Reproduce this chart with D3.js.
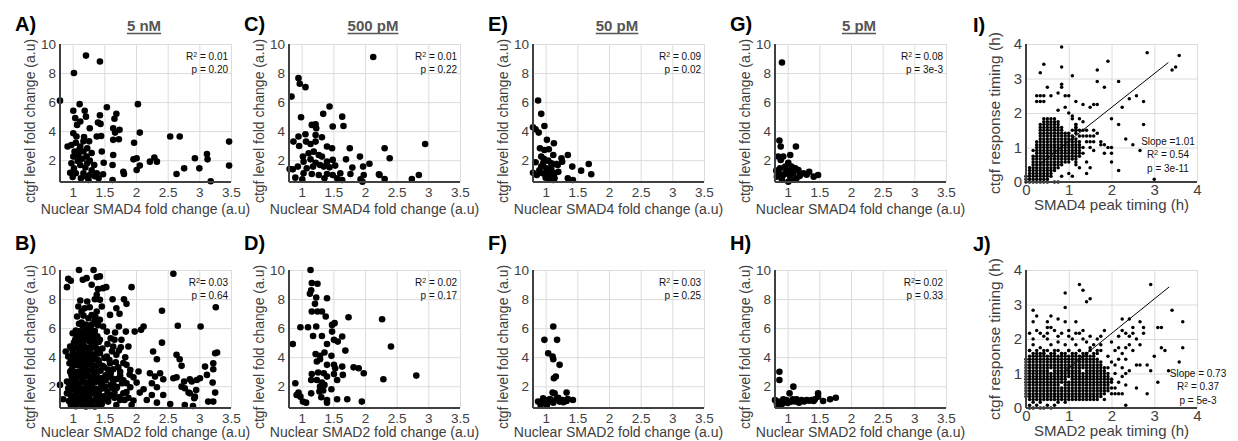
<!DOCTYPE html>
<html>
<head>
<meta charset="utf-8">
<script src="https://cdn.jsdelivr.net/npm/d3@7"></script>
<style>
  body { margin: 0; background: #fff; }
</style>
</head>
<body>
<svg id="fig" width="1238" height="441"></svg>
<script>
// ---- tick values / labels ----
const xTicksFold = [1, 1.5, 2, 2.5, 3, 3.5];
const yTicksFold = [2, 4, 6, 8, 10];
const timeTicks = [0, 1, 2, 3, 4];
const doses = ["5 nM", "500 pM", "50 pM", "5 pM"];
const lettersTop = ["A)", "C)", "E)", "G)"];
const lettersBottom = ["B)", "D)", "F)", "H)"];
const r2Smad4 = ["0.01", "0.01", "0.09", "0.08"];
const pSmad4 = ["0.20", "0.22", "0.02", "3e-3"];
const r2Smad2 = ["0.03", "0.02", "0.03", "0.02"];
const pSmad2 = ["0.64", "0.17", "0.25", "0.33"];

// ---- fold change scatter data [nuclear SMAD fold change, ctgf fold change] ----
const smad4_5nM = [[0.8,6.1],[1.21,9.2],[1.43,8.8],[1.02,8.0],[1.11,5.86],[1.54,5.65],[2.03,5.86],[1.69,5.19],[1.01,5.4],[1.19,5.4],[1.43,5.1],[1.66,4.85],[1.04,4.9],[1.12,4.66],[1.21,5.0],[1.07,4.43],[1.27,4.2],[1.4,4.6],[1.44,4.5],[1.64,4.2],[1.74,4.09],[1.67,3.9],[2.06,3.9],[1.97,3.2],[1.38,3.63],[1.45,3.67],[1.64,3.4],[1.73,3.44],[2.54,3.63],[2.69,3.63],[1.01,3.86],[1.06,3.63],[1.17,3.3],[1.26,3.3],[0.92,2.94],[0.98,3.05],[1.12,2.94],[1.23,2.82],[1.03,2.6],[1.17,2.6],[1.46,2.6],[1.64,2.36],[1.01,2.25],[1.09,2.36],[1.22,2.25],[1.27,1.97],[0.98,1.79],[1.12,1.67],[1.23,1.79],[1.34,1.67],[1.49,1.83],[1.63,1.67],[1.96,2.06],[2.01,2.13],[2.06,1.63],[2.01,1.33],[2.22,1.9],[2.29,2.18],[2.33,1.9],[0.96,1.14],[1.05,1.1],[1.17,1.1],[1.27,0.98],[1.38,1.1],[1.48,1.03],[1.13,0.75],[1.25,0.64],[1.41,0.75],[1.63,0.64],[1.8,1.21],[1.81,1.05],[2.64,1.05],[2.76,1.44],[2.93,2.13],[3.0,1.44],[3.12,2.43],[3.13,2.06],[3.18,0.55],[3.47,3.28],[3.47,1.63],[1.05,3.2],[1.1,2.7],[1.15,2.1],[1.2,1.5],[1.08,1.95],[1.3,1.3],[1.35,0.9],[1.02,1.45],[1.18,3.6],[1.3,2.5],[1.0,0.85],[1.2,0.9]];

const smad4_500pM = [[2.13,9.1],[0.95,7.65],[0.97,7.26],[1.06,7.03],[0.84,6.38],[0.99,4.96],[1.44,5.7],[1.34,5.19],[1.64,5.0],[1.66,4.36],[1.49,4.32],[1.16,4.43],[1.22,4.48],[1.23,4.2],[0.95,3.63],[1.06,3.79],[1.22,3.74],[1.32,3.58],[0.87,3.28],[1.07,3.28],[1.14,3.12],[1.22,3.28],[0.96,2.98],[1.19,2.59],[1.4,2.94],[1.48,2.82],[1.76,2.82],[1.11,2.48],[1.27,2.36],[1.02,2.25],[1.32,2.25],[1.03,1.9],[1.14,2.06],[1.22,1.83],[1.29,1.67],[1.4,1.9],[1.49,2.02],[1.7,2.06],[1.92,2.25],[2.07,1.76],[0.94,1.56],[1.08,1.44],[1.18,1.56],[1.35,1.56],[1.44,1.51],[1.53,1.63],[1.8,1.49],[1.97,1.56],[0.81,1.4],[0.86,1.37],[1.03,1.1],[1.16,1.05],[1.27,0.98],[1.4,1.05],[1.49,0.98],[1.61,1.1],[1.77,1.05],[1.98,0.98],[2.22,1.03],[0.9,0.8],[1.01,0.68],[1.36,0.75],[1.56,0.75],[1.64,0.64],[1.93,0.68],[1.96,0.52],[2.31,2.82],[2.39,2.13],[2.23,0.98],[2.31,0.71],[2.74,0.71],[2.85,0.98],[2.95,3.12]];

const smad4_50pM = [[0.88,6.11],[0.93,5.19],[0.8,4.27],[0.84,4.13],[0.89,3.9],[0.98,4.36],[1.02,3.4],[1.13,3.17],[0.91,2.82],[0.98,2.7],[1.05,2.75],[0.93,2.25],[1.12,2.36],[0.84,1.86],[0.96,1.79],[1.04,1.97],[1.17,1.74],[0.93,1.56],[1.01,1.44],[1.09,1.56],[0.8,1.14],[0.86,0.98],[0.95,1.1],[1.04,0.91],[1.12,1.05],[1.06,0.68],[1.14,0.75],[1.25,2.13],[1.26,1.9],[1.35,2.36],[1.19,1.67],[1.09,1.79],[1.42,1.56],[1.68,1.74],[1.56,1.28],[1.72,1.03],[1.01,1.1],[1.09,1.33],[1.14,1.1],[1.12,0.64],[1.35,0.75],[1.43,0.64],[0.9,1.3],[1.0,0.8],[1.2,1.2],[0.97,2.1]];

const smad4_5pM = [[0.91,8.73],[0.87,3.35],[1.13,2.94],[1.04,2.36],[0.89,2.94],[0.85,2.25],[0.89,2.02],[0.93,2.25],[1.01,1.83],[0.82,1.28],[0.88,1.44],[0.96,1.56],[1.06,1.56],[1.12,1.44],[1.17,1.33],[1.01,1.21],[1.09,1.1],[1.25,1.1],[1.34,1.21],[1.41,0.87],[1.48,0.98],[0.83,0.87],[0.91,0.68],[1.01,0.52],[1.14,0.75],[1.19,0.91],[0.93,0.98],[1.04,0.87],[0.98,1.3],[1.1,1.25],[0.86,1.1],[1.2,1.05],[1.3,1.0],[0.95,1.05],[1.07,0.65]];

const smad2_5nM = [[1.1,10.0],[1.33,10.0],[0.93,9.4],[0.97,9.26],[1.16,9.33],[1.22,9.44],[1.38,9.51],[1.43,9.56],[1.3,8.98],[0.91,8.82],[1.4,8.68],[1.48,8.75],[1.53,8.82],[1.93,8.82],[2.59,9.74],[1.38,8.29],[1.43,7.95],[1.63,7.99],[1.81,7.99],[1.12,7.9],[1.23,7.83],[1.35,7.99],[1.85,7.67],[2.41,7.19],[1.09,7.49],[1.19,7.37],[1.27,7.44],[1.46,7.49],[1.69,7.37],[1.14,7.14],[1.38,7.14],[1.59,6.91],[1.74,6.98],[1.07,6.8],[1.25,6.68],[1.14,6.39],[1.35,6.52],[1.43,6.57],[1.17,6.11],[1.3,6.22],[1.48,6.11],[1.73,6.11],[2.12,6.11],[2.08,5.88],[2.66,6.16],[1.0,5.65],[1.09,5.53],[1.27,5.65],[1.54,5.76],[1.67,5.7],[1.84,5.76],[1.98,5.76],[1.04,5.19],[1.22,5.3],[1.43,5.19],[1.77,5.19],[2.41,5.0],[0.96,4.73],[1.14,4.73],[1.33,4.73],[1.64,4.73],[1.76,4.68],[1.88,4.73],[0.89,4.39],[1.19,4.27],[1.43,4.27],[1.69,4.16],[2.27,4.39],[2.64,4.16],[0.93,4.04],[1.09,3.93],[1.27,3.99],[1.54,4.04],[1.83,3.99],[2.69,3.86],[2.33,3.86],[0.95,3.58],[1.12,3.47],[1.25,3.63],[1.41,3.53],[1.59,3.58],[1.85,3.47],[0.98,3.12],[1.17,3.24],[1.38,3.01],[1.64,3.17],[1.91,3.12],[2.04,3.01],[2.22,2.89],[2.38,2.89],[0.98,2.78],[1.19,2.66],[1.33,2.78],[1.54,2.66],[1.75,2.71],[1.96,2.61],[2.3,2.66],[2.43,2.48],[2.59,2.55],[2.64,2.61],[2.85,2.48],[2.96,2.43],[0.91,2.32],[1.06,2.2],[1.25,2.25],[1.43,2.32],[1.64,2.2],[1.85,2.2],[2.01,2.25],[2.25,2.2],[2.76,2.32],[0.8,2.09],[0.93,1.86],[1.12,1.86],[1.3,1.97],[1.48,1.86],[1.69,1.86],[1.91,1.93],[2.12,1.79],[2.33,1.93],[2.72,1.97],[0.91,1.51],[1.06,1.4],[1.22,1.47],[1.41,1.51],[1.62,1.4],[1.8,1.51],[2.06,1.56],[2.25,1.4],[2.43,1.4],[2.83,1.56],[2.93,1.28],[0.85,1.1],[1.04,1.05],[1.19,0.94],[1.38,1.05],[1.56,0.94],[1.75,1.05],[1.96,1.01],[2.17,1.05],[2.54,0.78],[2.77,0.71],[1.06,0.71],[1.27,0.64],[1.46,0.78],[1.69,0.71],[1.93,0.71],[2.33,0.87],[3.26,7.44],[3.02,6.11],[3.28,4.32],[3.25,4.27],[3.09,3.35],[3.22,3.58],[3.22,3.17],[3.12,2.78],[3.21,2.25],[3.01,2.55],[2.88,2.32],[2.72,3.4],[2.77,1.86],[2.85,1.51],[2.95,1.74],[2.92,1.17],[2.9,0.64],[3.14,0.94],[3.22,0.94],[3.25,1.56],[1.02,1.2],[1.08,1.6],[1.14,1.2],[1.2,1.7],[1.26,1.3],[1.32,1.7],[1.38,1.3],[1.04,2.4],[1.1,2.8],[1.16,2.4],[1.22,2.9],[1.28,2.4],[1.34,3.0],[1.4,2.5],[1.05,3.5],[1.11,4.0],[1.17,3.6],[1.23,4.1],[1.29,3.6],[1.35,4.1],[1.41,3.7],[1.06,4.6],[1.12,5.1],[1.18,4.7],[1.24,5.2],[1.3,4.8],[1.36,5.3],[1.2,5.8],[1.28,6.0],[1.15,6.2],[1.09,0.9],[1.17,0.7],[1.23,0.8],[1.31,0.9],[1.35,0.6],[1.48,1.3],[1.55,1.6],[1.62,1.9],[1.52,2.4],[1.6,2.9],[1.7,2.5],[1.5,3.3],[1.58,3.8],[1.72,3.3],[1.78,2.2],[1.66,1.2],[1.85,1.6],[1.47,4.6],[1.6,5.3],[1.0,2.0],[1.25,2.0],[1.3,5.6],[1.13,5.6],[1.45,2.1],[0.97,3.9],[1.0,4.3],[1.42,4.5],[1.19,3.1],[1.33,3.4],[1.08,3.0]];
// densest part of the 5 nM SMAD2 cloud
const smad2_5nM_core = [[0.97,0.72],[1.05,0.62],[1.14,0.78],[1.21,0.6],[1.3,0.74],[1.4,0.66],[0.94,0.98],[1.01,1.02],[1.12,1.06],[1.22,1.12],[1.29,1.0],[1.36,1.08],[1.44,1.0],[0.97,1.38],[1.05,1.45],[1.13,1.36],[1.18,1.48],[1.27,1.42],[1.34,1.5],[1.42,1.38],[0.99,1.78],[1.06,1.86],[1.16,1.8],[1.21,1.9],[1.28,1.76],[1.36,1.84],[1.44,1.8],[0.95,2.16],[1.02,2.28],[1.11,2.18],[1.19,2.26],[1.3,2.14],[1.37,2.3],[1.46,2.24],[0.99,2.56],[1.07,2.62],[1.14,2.58],[1.24,2.68],[1.31,2.6],[1.39,2.64],[1.47,2.56],[0.96,3.0],[1.03,2.96],[1.13,3.04],[1.2,2.98],[1.27,3.08],[1.36,2.98],[1.44,3.06],[1.0,3.36],[1.08,3.44],[1.15,3.38],[1.22,3.46],[1.31,3.36],[1.38,3.42],[1.47,3.4],[0.98,3.78],[1.05,3.84],[1.13,3.76],[1.2,3.86],[1.26,3.78],[1.33,3.86],[1.4,3.8],[1.02,4.16],[1.1,4.24],[1.16,4.18],[1.25,4.28],[1.32,4.2],[1.39,4.26],[0.99,4.58],[1.07,4.64],[1.15,4.56],[1.22,4.66],[1.28,4.6],[1.37,4.62],[1.02,5.0],[1.09,5.06],[1.17,4.98],[1.27,5.08],[1.34,4.96],[1.41,5.04],[1.06,5.4],[1.14,5.36],[1.2,5.46],[1.32,5.38],[1.39,5.44],[1.05,5.84],[1.11,5.78],[1.24,5.86],[1.35,5.8],[1.1,6.3],[1.21,6.24],[1.33,6.34],[1.4,6.2],[1.17,6.86],[1.3,6.9],[1.36,6.76],[1.5,1.1],[1.58,1.3],[1.66,1.55],[1.74,1.25],[1.82,1.05],[1.52,1.95],[1.6,2.1],[1.7,1.95],[1.8,2.4],[1.52,2.75],[1.62,2.55],[1.75,3.0],[1.56,3.15],[1.68,3.65],[1.8,3.6],[1.5,3.95],[1.62,4.4],[1.73,4.45],[1.55,4.9],[1.66,5.2],[1.9,2.8],[1.88,1.2]];

const smad2_500pM = [[1.14,10.0],[1.16,9.1],[1.25,9.05],[1.15,8.6],[1.13,8.36],[1.23,8.11],[1.4,8.06],[1.21,7.67],[1.16,7.14],[1.25,7.14],[1.32,7.14],[1.38,6.8],[1.74,6.75],[1.1,6.06],[1.23,6.11],[0.98,6.06],[1.48,6.22],[1.52,6.34],[1.18,5.46],[1.32,5.46],[1.48,5.76],[1.64,5.42],[1.51,5.19],[1.57,5.07],[0.86,4.91],[1.4,4.91],[1.22,4.22],[1.69,4.45],[1.29,4.09],[1.47,4.09],[1.36,4.32],[1.24,3.7],[1.29,3.86],[1.4,3.47],[1.51,3.47],[1.53,3.24],[1.64,3.35],[1.82,3.3],[1.9,3.24],[1.98,2.89],[1.16,2.84],[1.26,2.94],[1.35,2.89],[1.4,2.66],[1.51,2.84],[1.56,2.43],[1.65,2.78],[1.24,2.43],[1.32,2.25],[1.15,2.43],[0.9,2.2],[1.29,1.97],[1.36,2.09],[1.28,1.63],[1.34,1.7],[0.95,1.56],[0.92,1.4],[0.98,1.28],[1.15,1.51],[1.47,1.79],[1.31,1.24],[1.4,1.05],[1.4,0.87],[1.56,1.1],[1.72,1.1],[1.95,0.94],[1.02,0.94],[1.07,0.87],[2.27,6.61],[2.41,4.73],[2.29,2.48],[2.81,2.73]];

const smad2_50pM = [[1.12,6.11],[0.98,5.19],[1.18,5.19],[1.04,4.27],[1.11,4.04],[1.12,3.86],[1.22,3.47],[1.13,2.55],[1.16,2.66],[1.11,1.56],[1.14,1.51],[1.33,1.56],[0.96,1.17],[1.04,1.05],[1.17,1.1],[1.27,1.05],[1.35,1.12],[1.43,1.05],[0.93,0.87],[1.01,0.78],[1.12,0.87],[1.22,0.94],[1.33,0.98],[0.92,0.71],[0.99,1.05],[0.97,0.94],[1.02,0.71],[0.88,0.94],[1.07,1.12],[1.1,0.94],[1.2,1.2],[1.28,0.9]];

const smad2_5pM = [[0.87,3.0],[0.87,2.43],[1.09,1.97],[1.03,1.51],[0.8,1.05],[0.85,0.94],[0.91,0.78],[0.96,0.94],[0.93,1.1],[0.98,1.05],[1.06,0.94],[1.08,1.1],[0.88,0.71],[1.18,0.87],[1.22,1.05],[1.3,1.05],[1.38,1.05],[1.41,0.98],[1.48,1.51],[1.48,1.28],[1.56,0.98],[1.67,1.1],[1.76,1.21],[1.43,1.1],[1.14,1.1],[1.26,0.95],[1.34,1.0],[0.83,0.8],[1.0,0.85],[1.12,0.95]];

// ---- timing data, in 5-min frames: [SMAD peak frame, ctgf response frame] ----
const smad4TimingSparse = [[10,47],[5,41],[4,38],[10,40],[13,37],[23,42],[34,45],[43,44],[42,40],[41,39],[20,39],[20,35],[26,35],[10,34],[10,33],[22,33],[6,33],[9,31],[11,30],[3,30],[4,30],[5,30],[7,30],[12,30],[3,28],[4,28],[5,28],[33,28],[31,30],[29,29],[27,26],[14,28],[16,27],[18,26],[19,27],[20,27],[9,25],[11,26],[24,22],[26,20],[33,20],[13,22],[28,15],[30,13],[32,11],[24,12],[24,10],[22,10],[24,7],[26,4],[36,1],[17,3],[18,5],[17,7],[14,7],[12,3],[15,18],[16,18],[17,18],[19,18],[20,17],[15,16],[16,16],[17,16],[18,16],[19,16],[15,14],[17,14],[18,14],[19,14],[21,13],[22,13],[16,12],[18,12],[19,11],[23,12],[16,10],[15,9],[21,14],[14,6],[15,5],[13,2],[10,2],[8,0],[9,0],[14,20],[15,22],[16,21],[13,23],[12,24],[14,18],[14,19],[14,17]];
// dense block: [ctgf frame, SMAD4 peak frames]
const smad4TimingRows = [
  [0, [0,1,2,3,4,5,6]],
  [1, [0,1,2,3,4,5,6]],
  [2, [0,1,2,3,4,5,6,7]],
  [3, [1,2,3,4,5,6,7]],
  [4, [1,2,3,4,5,6,7,8]],
  [5, [1,2,3,4,5,6,7,8,9]],
  [6, [2,3,4,5,6,7,8,9,10]],
  [7, [2,3,4,5,6,7,8,9,10,11,12]],
  [8, [2,3,4,5,6,7,8,9,10,11,12,13,14]],
  [9, [2,3,4,5,6,7,8,9,10,11,12,13,14]],
  [10, [3,4,5,6,7,8,9,10,11,12,13,14,15]],
  [11, [2,3,4,5,6,7,8,9,10,11,12,13,14,15]],
  [12, [3,4,5,6,7,8,9,10,11,12,13,14,15]],
  [13, [3,4,5,6,7,8,9,10,11,12,13,14,15]],
  [14, [3,4,5,6,7,8,9,10,11,12,13,14]],
  [15, [4,5,6,7,8,9,10,11,12,13,14]],
  [16, [4,5,6,7,8,9,10,11,12,13]],
  [17, [4,5,6,7,8,9,10,11,12]],
  [18, [4,5,6,7,8,9,10,13,14]],
  [19, [4,5,6,7,8,9,10,14]],
  [20, [4,5,6,7,8,9,14]],
  [21, [5,6,7,8,9]],
  [22, [5,6,7,8]]
];
const smad4Fit = { slope: 0.98, intercept: 0.2, from: 0.3, to: 3.33 };

const smad2TimingSparse = [[15,43],[16,41],[17,37],[18,38],[11,40],[11,35],[35,43],[41,34],[44,30],[2,34],[3,32],[7,32],[2,30],[6,30],[9,31],[11,30],[14,30],[6,28],[7,28],[27,31],[29,31],[30,28],[32,30],[33,28],[33,26],[37,28],[38,28],[38,21],[39,20],[44,21],[43,16],[40,13],[36,18],[35,13],[37,9],[32,15],[31,15],[34,15],[31,7],[34,5],[28,1],[26,5],[24,5],[25,5],[27,5],[24,7],[28,12],[25,12],[26,25],[24,23],[28,21],[21,22],[22,27],[27,27],[28,26],[29,25],[30,26],[31,24],[29,22],[30,20],[32,22],[27,19],[26,17],[28,17],[25,15],[27,14],[29,13],[24,16],[23,18],[25,20],[26,21],[23,14],[24,10],[26,9],[28,8],[23,6],[25,7],[27,11],[1,26],[3,27],[5,25],[8,27],[10,26],[12,27],[6,24],[9,23],[2,22],[4,21],[7,22],[11,22],[13,24],[15,26],[16,24],[14,22],[17,23],[18,21],[19,22],[20,20],[12,20],[8,20],[5,19],[3,19],[1,20],[10,19],[15,20],[17,19],[2,24],[4,26],[6,26],[9,25],[12,25],[14,26],[16,27],[18,25],[20,24],[21,25],[1,0],[2,0],[4,0],[5,0],[7,0],[1,1],[3,1],[6,1],[8,1],[2,2],[4,2],[9,2],[11,2]];
const smad2TimingRows = [
  [3, [1,2,3,4,5,6,7,8,9,10,11,12,13,14,15,16,17,18,19,20,22]],
  [4, [0,1,2,3,4,5,6,7,8,9,10,11,12,13,14,15,16,17,18,19,20,21]],
  [5, [0,1,2,3,4,5,6,7,8,9,10,11,12,13,14,15,16,17,18,19,20,21,22]],
  [6, [0,1,2,3,4,5,6,7,8,9,10,11,12,13,14,15,16,17,18,19,20,21,22]],
  [7, [0,1,2,3,4,5,6,7,8,9,10,11,12,13,14,15,16,17,18,19,20,21,22,23]],
  [8, [0,1,2,3,4,5,6,7,8,9,11,12,13,14,15,16,17,18,19,20,21,22,23]],
  [9, [0,1,2,3,4,5,6,7,8,9,10,11,12,13,14,15,16,17,18,19,20,21,22,23,24]],
  [10, [0,1,2,3,4,5,6,7,8,9,10,11,13,14,15,16,17,18,19,20,21,22,23,24]],
  [11, [0,1,2,3,4,5,6,7,8,9,10,11,12,13,14,15,16,17,18,19,20,21,22,23]],
  [12, [0,1,2,3,4,5,6,7,8,9,10,11,12,13,14,15,16,17,18,19,20,21,22,23]],
  [13, [0,1,2,3,4,5,6,8,9,10,11,12,13,14,15,17,18,19,20,21,22]],
  [14, [0,1,2,3,4,5,6,7,8,9,10,11,12,13,14,15,16,17,18,19,20,21,22]],
  [15, [0,1,2,3,4,5,6,7,8,9,10,11,12,13,14,15,16,17,18,19,20,21]],
  [16, [0,1,2,3,4,5,6,7,8,9,10,11,12,13,14,15,16,17,18,19,20,21]],
  [17, [0,1,2,3,4,5,6,7,8,9,10,11,12,13,14,15,16,17,18,19,20]],
  [18, [1,2,3,4,5,6,7,8,9,10,11,12,13,14,15,16,17,18,19]],
  [19, [2,4,5,7,8,10,11,13,14,16,17,19,20]],
  [20, [1,3,5,6,9,12,15,18,21]]
];
const smad2Fit = { slope: 1.0, intercept: 0.16, from: 0.9, to: 3.35 };

// ---- drawing ----
const svg = d3.select("#fig");
const font = "'Liberation Sans', Arial, Helvetica, sans-serif";
const W = 171, H = 138;
const gridColor = "#dcdcdc";
const axisColor = "#404040";
const tickColor = "#404040";
const rowTop = [44, 270];
const letterBase = [31, 250];
const xlabelBase = [214, 437];
const foldLefts = [60, 289, 533, 775];
const timingLeft = 1026;

function styleAxis(a, size) {
  a.attr("font-family", font).attr("font-size", size);
  a.select(".domain").remove();
  a.selectAll(".tick line").attr("stroke", gridColor).attr("stroke-width", 1);
  a.selectAll(".tick text").attr("fill", tickColor);
}

function statText(g, xPos, yPos, anchor, label, value, tight) {
  const t = g.append("text")
    .attr("x", xPos).attr("y", yPos)
    .attr("text-anchor", anchor)
    .attr("font-family", font).attr("font-size", 10).attr("fill", "#111");
  if (label === "R2") {
    t.append("tspan").text("R");
    t.append("tspan").attr("baseline-shift", "super").attr("font-size", 7).text("2");
    t.append("tspan").text((tight ? "= " : " = ") + value);
  } else {
    t.text(label + value);
  }
}

function panelLetter(x, y, s) {
  svg.append("text").attr("x", x).attr("y", y).text(s)
    .attr("font-family", font).attr("font-weight", "bold")
    .attr("font-size", 20).attr("fill", "#000");
}

function foldPanel(pts, col, row, o) {
  const left = foldLefts[col], top = rowTop[row];
  const g = svg.append("g");
  const x = d3.scaleLinear().domain([0.8, 3.5]).range([left, left + W]);
  const y = d3.scaleLinear().domain([0.5, 10]).range([top + H, top]);

  const gx = g.append("g").attr("transform", `translate(0,${top + H})`)
    .call(d3.axisBottom(x).tickValues(xTicksFold).tickSizeInner(-H).tickSizeOuter(0)
      .tickPadding(5).tickFormat(d3.format("")));
  styleAxis(gx, 13.5);
  const gy = g.append("g").attr("transform", `translate(${left},0)`)
    .call(d3.axisLeft(y).tickValues(yTicksFold).tickSizeInner(-W).tickSizeOuter(0)
      .tickPadding(4).tickFormat(d3.format("")));
  styleAxis(gy, 13.5);

  g.append("g").selectAll("circle").data(pts).join("circle")
    .attr("cx", d => x(d[0])).attr("cy", d => y(d[1]))
    .attr("r", 3.3).attr("fill", "#000");

  // left and bottom axis lines
  g.append("line").attr("x1", x(0.8)).attr("x2", x(0.8)).attr("y1", y(10)).attr("y2", y(0.5))
    .attr("stroke", axisColor).attr("stroke-width", 2);
  g.append("line").attr("x1", x(0.8)).attr("x2", x(3.5)).attr("y1", y(0.5)).attr("y2", y(0.5))
    .attr("stroke", axisColor).attr("stroke-width", 2);

  statText(g, left + W - 3, top + 15.5, "end", "R2", o.r2, o.tight);
  statText(g, left + W - 3, top + 28.5, "end", "p = ", o.p);

  g.append("text")
    .attr("transform", `translate(${left - 30},${top + H / 2 + 8}) rotate(-90)`)
    .attr("text-anchor", "middle").attr("dy", "0.35em")
    .attr("font-family", font).attr("font-size", 14).attr("fill", tickColor)
    .text("ctgf level fold change (a.u)");
  g.append("text")
    .attr("x", left + W / 2).attr("y", xlabelBase[row])
    .attr("text-anchor", "middle")
    .attr("font-family", font).attr("font-size", 14).attr("fill", tickColor)
    .text(o.xlabel);

  panelLetter(left - 45, letterBase[row], o.letter);

  if (o.title) {
    const tt = g.append("text")
      .attr("x", left + 84).attr("y", 31).attr("text-anchor", "middle")
      .attr("font-family", font).attr("font-weight", "bold").attr("font-size", 15)
      .attr("fill", "#555").text(o.title);
    const bb = tt.node().getBBox();
    g.append("line").attr("x1", bb.x).attr("x2", bb.x + bb.width)
      .attr("y1", 33.5).attr("y2", 33.5).attr("stroke", "#555").attr("stroke-width", 1.3);
  }
}

function timingPanel(sparse, rows, fit, row, o) {
  const left = timingLeft, top = rowTop[row];
  const g = svg.append("g");
  const x = d3.scaleLinear().domain([0, 4]).range([left, left + W]);
  const y = d3.scaleLinear().domain([0, 4]).range([top + H, top]);

  const gx = g.append("g").attr("transform", `translate(0,${top + H})`)
    .call(d3.axisBottom(x).tickValues(timeTicks).tickSizeInner(-H).tickSizeOuter(0)
      .tickPadding(2).tickFormat(d3.format("d")));
  styleAxis(gx, 15);
  const gy = g.append("g").attr("transform", `translate(${left},0)`)
    .call(d3.axisLeft(y).tickValues(timeTicks).tickSizeInner(-W).tickSizeOuter(0)
      .tickPadding(4).tickFormat(d3.format("d")));
  styleAxis(gy, 15);

  const pts = sparse.concat(rows.flatMap(([fy, xs]) => xs.map(fx => [fx, fy])));
  g.append("g").selectAll("circle").data(pts).join("circle")
    .attr("cx", d => x(d[0] / 12)).attr("cy", d => y(d[1] / 12))
    .attr("r", 1.75).attr("fill", "#000");

  g.append("line")
    .attr("x1", x(fit.from)).attr("y1", y(fit.slope * fit.from + fit.intercept))
    .attr("x2", x(fit.to)).attr("y2", y(fit.slope * fit.to + fit.intercept))
    .attr("stroke", "#000").attr("stroke-width", 1);

  g.append("line").attr("x1", x(0)).attr("x2", x(0)).attr("y1", y(4)).attr("y2", y(0))
    .attr("stroke", axisColor).attr("stroke-width", 2);
  g.append("line").attr("x1", x(0)).attr("x2", x(4)).attr("y1", y(0)).attr("y2", y(0))
    .attr("stroke", axisColor).attr("stroke-width", 2);

  statText(g, o.statX, o.statY, "middle", "Slope ", o.slope);
  statText(g, o.statX, o.statY + 13.3, "middle", "R2", o.r2);
  statText(g, o.statX, o.statY + 26.6, "middle", "p = ", o.p);

  g.append("text")
    .attr("transform", `translate(${left - 31},${top + H / 2}) rotate(-90)`)
    .attr("text-anchor", "middle").attr("dy", "0.35em")
    .attr("font-family", font).attr("font-size", 15.5).attr("fill", tickColor)
    .text("ctgf response timing (h)");
  g.append("text")
    .attr("x", left + W / 2).attr("y", top + H + 28)
    .attr("text-anchor", "middle")
    .attr("font-family", font).attr("font-size", 15).attr("fill", tickColor)
    .text(o.xlabel);

  panelLetter(left - 53, letterBase[row] + 1, o.letter);
}

const smad4Sets = [smad4_5nM, smad4_500pM, smad4_50pM, smad4_5pM];
const smad2Sets = [smad2_5nM.concat(smad2_5nM_core), smad2_500pM, smad2_50pM, smad2_5pM];

smad4Sets.forEach((pts, i) => foldPanel(pts, i, 0, {
  letter: lettersTop[i], title: doses[i], r2: r2Smad4[i], p: pSmad4[i], tight: false,
  xlabel: "Nuclear SMAD4 fold change (a.u)"
}));
smad2Sets.forEach((pts, i) => foldPanel(pts, i, 1, {
  letter: lettersBottom[i], title: null, r2: r2Smad2[i], p: pSmad2[i], tight: (i === 0 || i === 3),
  xlabel: "Nuclear SMAD2 fold change (a.u)"
}));

timingPanel(smad4TimingSparse, smad4TimingRows, smad4Fit, 0, {
  letter: "I)", slope: "=1.01", r2: "0.54", p: "3e-11",
  statX: 1168, statY: 145, xlabel: "SMAD4 peak timing (h)"
});
timingPanel(smad2TimingSparse, smad2TimingRows, smad2Fit, 1, {
  letter: "J)", slope: "= 0.73", r2: "0.37", p: "5e-3",
  statX: 1198, statY: 377, xlabel: "SMAD2 peak timing (h)"
});
</script>
</body>
</html>
